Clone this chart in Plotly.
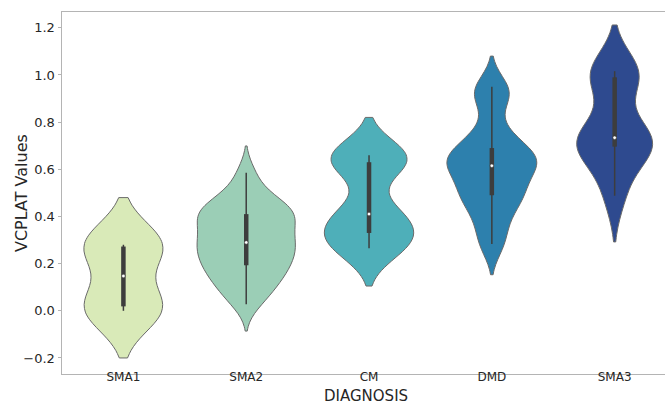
import numpy as np
import plotly.graph_objects as go

# Diagnosis groups and their VCPLAT measurements
categories = ["SMA1", "SMA2", "CM", "DMD", "SMA3"]

sma1 = [0.0, 0.025, 0.27, 0.28]
sma2 = [0.028, 0.07, 0.10, 0.13, 0.15, 0.17, 0.193, 0.21, 0.23, 0.24, 0.27, 0.28,
        0.29, 0.31, 0.33, 0.36, 0.37, 0.39, 0.41, 0.42, 0.43, 0.45, 0.47, 0.51, 0.585]
cm = [0.265, 0.33, 0.41, 0.63, 0.66]
dmd = [0.283, 0.38, 0.46, 0.49, 0.53, 0.59, 0.615, 0.64, 0.66, 0.69, 0.76, 0.90, 0.95]
sma3 = [0.488, 0.64, 0.696, 0.72, 0.734, 0.75, 0.99, 1.0, 1.016]

y_ticks = [-0.2, 0.0, 0.2, 0.4, 0.6, 0.8, 1.0, 1.2]

groups = [sma1, sma2, cm, dmd, sma3]

# Styling: kernel bandwidths, violin widths (category units) and fill colours
bandwidths = [0.10, 0.057, 0.08, 0.065, 0.098]
violin_widths = [0.642, 0.80, 0.724, 0.732, 0.618]
fill_colors = ["#d9eab8", "#9bceb6", "#4eafb9", "#2d80ad", "#2e4a8f"]
edge_color = "#6a6a6a"
inner_color = "#3d3d3d"
text_color = "#262626"

fig = go.Figure()

for name, values, bw, w, col in zip(categories, groups, bandwidths, violin_widths, fill_colors):
    fig.add_trace(go.Violin(
        x=[name] * len(values),
        y=values,
        name=name,
        bandwidth=bw,
        spanmode="soft",
        scalemode="width",
        width=w,
        points=False,
        fillcolor=col,
        opacity=1,
        line=dict(color=edge_color, width=1),
        box_visible=False,
        meanline_visible=False,
        showlegend=False,
        hoverinfo="skip",
    ))

# Inner box: whisker line, interquartile bar and median dot
for name, values in zip(categories, groups):
    arr = np.asarray(values)
    q1, q2, q3 = np.percentile(arr, [25, 50, 75])
    lim = 1.5 * (q3 - q1)
    lo = arr[arr >= q1 - lim].min()
    hi = arr[arr <= q3 + lim].max()
    fig.add_trace(go.Scatter(x=[name, name], y=[lo, hi], mode="lines",
                             line=dict(color=inner_color, width=1.5),
                             showlegend=False, hoverinfo="skip"))
    fig.add_trace(go.Scatter(x=[name, name], y=[q1, q3], mode="lines",
                             line=dict(color=inner_color, width=4.5),
                             showlegend=False, hoverinfo="skip"))
    fig.add_trace(go.Scatter(x=[name], y=[q2], mode="markers",
                             marker=dict(color="white", size=3.5,
                                         line=dict(color=inner_color, width=0.5)),
                             showlegend=False, hoverinfo="skip"))

spine = "#b4b4b4"
fig.update_layout(
    width=665,
    height=405,
    margin=dict(l=62, r=0, t=12, b=31),
    paper_bgcolor="white",
    plot_bgcolor="white",
    font=dict(family="DejaVu Sans", size=13, color=text_color),
    violinmode="overlay",
    annotations=[
        dict(text="DIAGNOSIS", xref="paper", yref="paper", x=0.5035, y=-0.0615,
             xanchor="center", yanchor="middle", showarrow=False,
             font=dict(size=15, color=text_color)),
        dict(text="VCPLAT Values", xref="paper", yref="paper", x=-0.068, y=0.5,
             xanchor="center", yanchor="middle", textangle=-90, showarrow=False,
             font=dict(size=16, color=text_color)),
    ],
)
fig.update_xaxes(
    type="category",
    categoryorder="array",
    categoryarray=categories,
    range=[-0.5, 4.41],
    showline=True,
    linecolor=spine,
    linewidth=1,
    mirror=True,
    ticks="outside",
    ticklen=2,
    tickcolor=spine,
    ticklabelstandoff=-10,
    showgrid=False,
    zeroline=False,
    tickfont=dict(size=12, color=text_color),
    automargin=False,
)
fig.update_yaxes(
    range=[-0.268, 1.267],
    tickvals=y_ticks,
    tickformat=".1f",
    showline=True,
    linecolor=spine,
    linewidth=1,
    mirror=False,
    ticks="outside",
    ticklen=3.5,
    tickcolor=spine,
    showgrid=False,
    zeroline=False,
    tickfont=dict(size=13, color=text_color),
    automargin=False,
)

fig.write_html("out.html")
